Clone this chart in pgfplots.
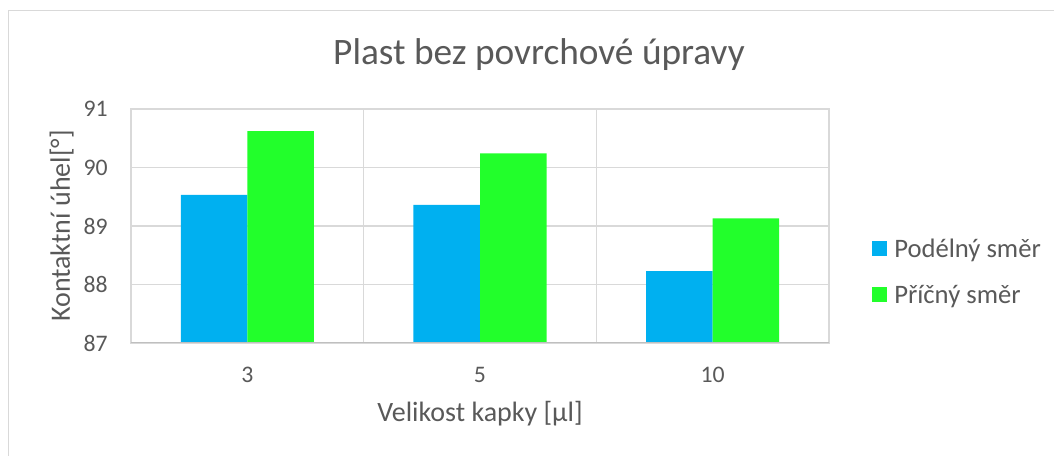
\documentclass[border=0pt]{standalone}
\usepackage{pgfplots}
\pgfplotsset{compat=1.18}
\usepackage{fontspec}
\setmainfont{Carlito}
\definecolor{txtgray}{HTML}{595959}
\definecolor{gridgray}{HTML}{D9D9D9}
\definecolor{axisgray}{HTML}{BFBFBF}
\definecolor{barblue}{HTML}{00B0F0}
\definecolor{bargreen}{HTML}{22FF2B}
\begin{document}
\begin{tikzpicture}
\useasboundingbox (0,0) rectangle (790.5pt,342pt);
\draw[gridgray, line width=1.1pt] (6.4pt,0) -- (6.4pt,334.1pt) -- (790.5pt,334.1pt);
\begin{axis}[
  at={(98.25pt,84.75pt)}, anchor=south west,
  scale only axis, width=523.5pt, height=175.5pt,
  ybar,
  bar width=49.9pt,
  ymin=87, ymax=91, ytick={87,88,89,90,91},
  xmin=-0.5, xmax=2.5,
  xtick={0,1,2}, xticklabels={3,5,10},
  minor xtick={-0.5,0.5,1.5,2.5},
  major tick length=0pt, minor tick length=0pt,
  xminorgrids=true, ymajorgrids=true,
  grid style={gridgray, line width=0.8pt},
  minor grid style={gridgray, line width=0.8pt},
  axis line style={gridgray, line width=0.8pt},
  /pgf/number format/assume math mode=true,
  tick label style={font=\fontsize{17.8}{21}\selectfont, text=txtgray},
  yticklabel style={anchor=east, inner sep=0pt, xshift=-17.25pt},
  xticklabel style={anchor=base, inner sep=0pt, yshift=-29.5pt},
  title={Plast bez povrchové úpravy},
  title style={font=\fontsize{28}{33}\selectfont, text=txtgray, at={(axis description cs:0.5845,1)}, anchor=base, yshift=27pt, inner sep=0pt},
  xlabel={Velikost kapky [µl]},
  xlabel style={font=\fontsize{21}{25}\selectfont, text=txtgray, at={(axis description cs:0.5,-0.3376)}, anchor=base, inner sep=0pt},
  ylabel={Kontaktní úhel[°]},
  ylabel style={font=\fontsize{21}{25}\selectfont, text=txtgray, at={(axis description cs:-0.0874,0.5)}, anchor=base, inner sep=0pt},
  legend style={draw=none, fill=none, at={(axis description cs:1.0616,0.3056)}, anchor=west, inner sep=0pt,
    font=\fontsize{20}{24}\selectfont, text=txtgray,
    nodes={inner sep=0pt, text depth=0pt},
    row sep=21pt,
    /tikz/every odd column/.append style={column sep=5.25pt}},
  legend cell align=left,
  legend image code/.code={\fill[#1] (0pt,-5.625pt) rectangle (11.25pt,5.625pt);},
]
\addplot[fill=barblue, draw=none, bar shift=-24.95pt] coordinates {(0,89.53) (1,89.36) (2,88.23)};
\addplot[fill=bargreen, draw=none, bar shift=24.95pt] coordinates {(0,90.62) (1,90.24) (2,89.13)};
\legend{Podélný směr, Příčný směr}
\draw[axisgray, line width=1.2pt] (rel axis cs:0,0) -- (rel axis cs:1,0);
\end{axis}
\end{tikzpicture}
\end{document}
